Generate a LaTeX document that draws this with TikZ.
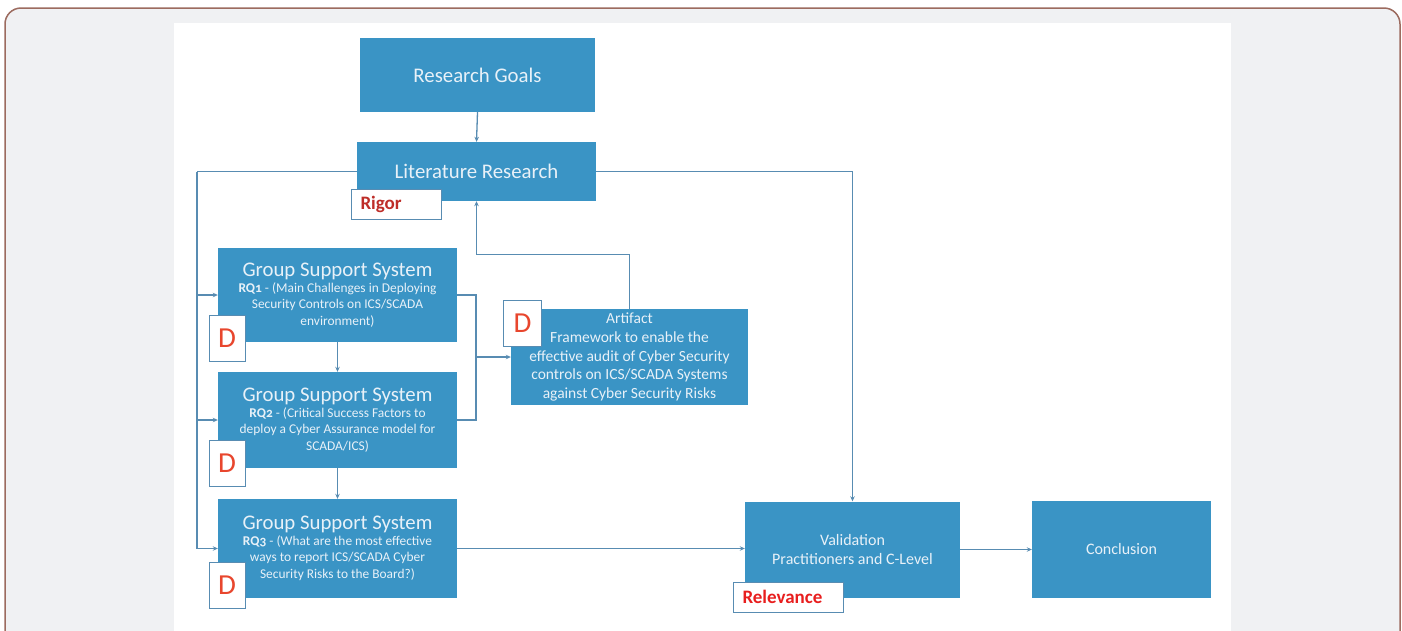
\documentclass[tikz,border=0pt]{standalone}
\usepackage{fontspec}
\setmainfont{Carlito}
\newfontfamily\oldnumfont[Numbers=OldStyle]{Carlito}
\usetikzlibrary{arrows.meta,calc}
\definecolor{boxblue}{RGB}{58,148,197}
\definecolor{linecol}{RGB}{88,140,178}
\definecolor{txtcol}{RGB}{232,241,248}
\definecolor{framecol}{RGB}{156,107,95}
\definecolor{bggray}{RGB}{240,241,243}
\definecolor{dred}{RGB}{232,70,45}
\definecolor{rigred}{RGB}{190,45,40}
\definecolor{relred}{RGB}{232,30,30}
\tikzset{
  box/.style={draw=none, fill=boxblue, text=txtcol, align=center, inner sep=0pt},
  gbox/.style={box, minimum width=239pt, font=\fontsize{13.4}{16.5}\selectfont},
  conn/.style={draw=linecol, line width=1.3pt, -{Stealth[length=5pt,width=4.5pt]}},
  wire/.style={draw=linecol, line width=1.3pt},
  dbox/.style={draw=linecol, line width=0.8pt, fill=white, text=dred, minimum width=36pt, minimum height=46pt, inner sep=0pt, font=\fontsize{29}{30}\selectfont},
  lbox/.style={draw=linecol, line width=0.8pt, fill=white, inner xsep=9pt, inner ysep=0pt, minimum height=30pt, align=left, font=\fontsize{19}{20}\selectfont\bfseries},
}
\newcommand{\ttl}[1]{{\fontsize{20.8}{24}\selectfont #1}}
\newcommand{\rqlab}[1]{\textbf{RQ{\oldnumfont\bfseries #1}}}
\begin{document}
\begin{tikzpicture}[x=1pt,y=-1pt]
\useasboundingbox (0,0) rectangle (1402,630);
\fill[white] (0,0) rectangle (1402,630);
\begin{scope}
\clip (0,0) rectangle (1402,630);
\draw[framecol, line width=1.5pt, fill=bggray, rounded corners=16pt] (5,8) rectangle (1400,680);
\fill[white] (174,23) rectangle (1231,640);
\end{scope}

% main boxes
\node[box, minimum width=235pt, minimum height=74pt] (rg) at (477.5,75) {\ttl{Research Goals}};
\node[box, minimum width=239pt, minimum height=59pt] (lit) at (476.5,171.5) {\ttl{Literature Research}};
\node[gbox, minimum height=94pt] (g1) at (337.5,295) {\ttl{Group Support System}\\[-1pt]
  \rqlab{1} - (Main Challenges in Deploying\\ Security Controls on ICS/SCADA\\ environment)};
\node[gbox, minimum height=96pt] (g2) at (337.5,420) {\ttl{Group Support System}\\[-1pt]
  \rqlab{2} - (Critical Success Factors to\\ deploy a Cyber Assurance model for\\ SCADA/ICS)};
\node[gbox, minimum height=99pt] (g3) at (337.5,548.5) {\ttl{Group Support System}\\[-1pt]
  \rqlab{3} - (What are the most effective\\ ways to report ICS/SCADA Cyber\\ Security Risks to the Board?)};
\node[box, minimum width=237pt, minimum height=96pt, font=\fontsize{15.5}{18.8}\selectfont] (art) at (629.5,357) {Artifact\\ Framework to enable the\\ effective audit of Cyber Security\\ controls on ICS/SCADA Systems\\ against Cyber Security Risks};
\node[box, minimum width=215pt, minimum height=96pt, font=\fontsize{16}{18.5}\selectfont] (val) at (852.5,549.5) {Validation\\ Practitioners and C-Level};
\node[box, minimum width=179pt, minimum height=97pt, font=\fontsize{16}{18}\selectfont] (conc) at (1121.5,549) {Conclusion};

% connectors
\draw[conn] (rg.south) -- (lit.north);
\coordinate (L) at (197,171.5);
\draw[wire] (lit.west) -- (L);
\draw[conn] (L) |- (g1.west);
\draw[conn] (L) |- (g2.west);
\draw[conn] (L) |- (g3.west);
\draw[conn] (lit.east) -| (val.north);
\draw[conn] (art.north) -- ++(0,-54) -| (lit.south);
\coordinate (J) at (476,357);
\draw[wire] (g1.east) -| (J);
\draw[wire] (g2.east) -| (J);
\draw[conn] (J) -- (art.west);
\draw[conn] (g1.south) -- (g2.north);
\draw[conn] (g2.south) -- (g3.north);
\draw[conn] (g3.east) -- (g3.east -| val.west);
\draw[conn] (val.east) -- (val.east -| conc.west);

% labels
\node[lbox, text=rigred, text width=72pt] (rigor) at (396.5,204) {Rigor};
\node[lbox, text=relred, text width=92pt] (rel) at (788.5,597) {Relevance};
\node[dbox] (d1) at (227,338) {D};
\node[dbox] (d2) at (227,463) {D};
\node[dbox] (d3) at (227,585) {D};
\node[dbox, minimum width=38pt] (d4) at (522.5,323) {D};
\end{tikzpicture}
\end{document}
